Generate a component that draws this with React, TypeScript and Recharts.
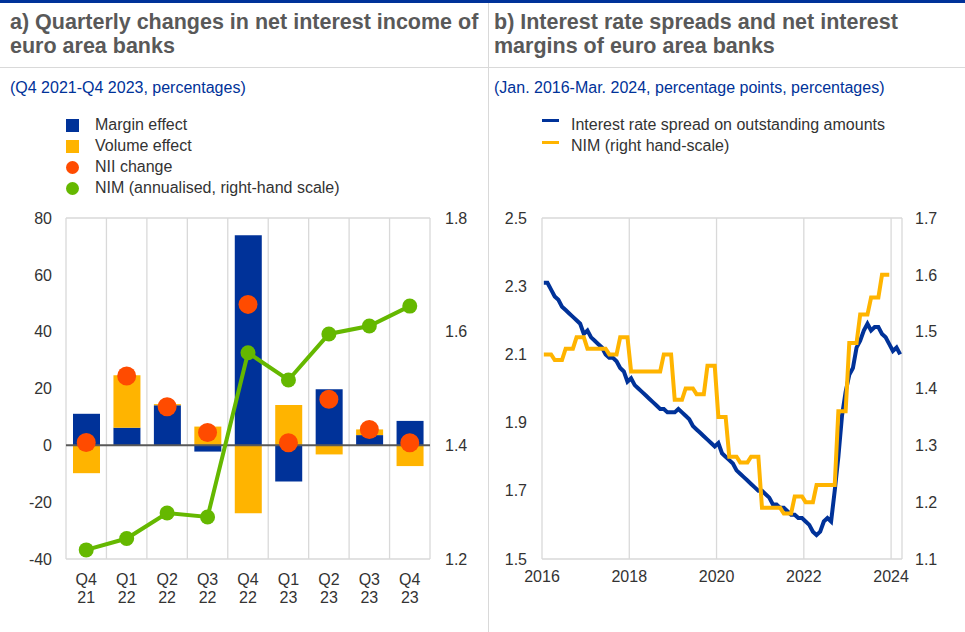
import React from 'react';
import { ComposedChart, Bar, Line, XAxis, YAxis, CartesianGrid, ReferenceLine } from 'recharts';

// ---------- Panel a) data ----------
const quarters = ['Q4 21', 'Q1 22', 'Q2 22', 'Q3 22', 'Q4 22', 'Q1 23', 'Q2 23', 'Q3 23', 'Q4 23'];
const marginEffect = [11.1, 6.2, 14.1, -2.2, 73.9, -12.7, 19.7, 3.6, 8.6];
const volumeEffect = [-9.8, 18.5, 0.4, 6.6, -23.9, 14.2, -3.2, 2.0, -7.3];
const niiChange = [1.0, 24.4, 13.6, 4.5, 49.6, 0.9, 16.2, 5.6, 0.9];
const nimAnnualised = [1.216, 1.236, 1.281, 1.274, 1.563, 1.515, 1.596, 1.61, 1.645];
const leftTicksA = [-40, -20, 0, 20, 40, 60, 80];
const rightTicksA = [1.2, 1.4, 1.6, 1.8];

// ---------- Panel b) data (monthly, Jan 2016 - Mar 2024) ----------
const spread = [
  2.31, 2.31, 2.29, 2.27, 2.26, 2.24, 2.23, 2.22, 2.21, 2.20, 2.19, 2.16,
  2.17, 2.15, 2.14, 2.13, 2.12, 2.10, 2.09, 2.09, 2.08, 2.06, 2.05, 2.02,
  2.03, 2.01, 2.00, 1.99, 1.98, 1.97, 1.96, 1.95, 1.94, 1.94, 1.93, 1.93,
  1.93, 1.94, 1.93, 1.92, 1.91, 1.89, 1.88, 1.87, 1.86, 1.85, 1.84, 1.83,
  1.84, 1.81, 1.80, 1.79, 1.78, 1.76, 1.75, 1.74, 1.73, 1.72, 1.71, 1.70,
  1.70, 1.69, 1.68, 1.66, 1.66, 1.65, 1.65, 1.64, 1.63, 1.63, 1.62, 1.62,
  1.61, 1.60, 1.58, 1.57, 1.58, 1.61, 1.62, 1.61, 1.70, 1.80, 1.92, 1.99,
  2.04, 2.06, 2.12, 2.14, 2.17, 2.19, 2.17, 2.18, 2.18, 2.16, 2.15, 2.13,
  2.11, 2.12, 2.10,
];
const nimMonthly = [
  1.46, 1.46, 1.46, 1.45, 1.45, 1.45, 1.47, 1.47, 1.47, 1.49, 1.49, 1.49,
  1.47, 1.47, 1.47, 1.47, 1.47, 1.47, 1.46, 1.46, 1.46, 1.49, 1.49, 1.49,
  1.43, 1.43, 1.43, 1.43, 1.43, 1.43, 1.43, 1.43, 1.43, 1.46, 1.46, 1.46,
  1.38, 1.38, 1.38, 1.40, 1.40, 1.40, 1.39, 1.39, 1.39, 1.44, 1.44, 1.44,
  1.35, 1.35, 1.35, 1.28, 1.28, 1.28, 1.27, 1.27, 1.27, 1.28, 1.28, 1.28,
  1.19, 1.19, 1.19, 1.19, 1.19, 1.19, 1.18, 1.18, 1.18, 1.21, 1.21, 1.21,
  1.20, 1.20, 1.20, 1.23, 1.23, 1.23, 1.23, 1.23, 1.23, 1.36, 1.36, 1.36,
  1.48, 1.48, 1.48, 1.53, 1.53, 1.53, 1.56, 1.56, 1.56, 1.60, 1.60, 1.60,
];
const yearTicks = [0, 24, 48, 72, 96];
const yearLabels = ['2016', '2018', '2020', '2022', '2024'];
const leftTicksB = [1.5, 1.7, 1.9, 2.1, 2.3, 2.5];
const rightTicksB = [1.1, 1.2, 1.3, 1.4, 1.5, 1.6, 1.7];

const BLUE = '#003299';
const YELLOW = '#FFB400';
const ORANGE = '#FF4B00';
const GREEN = '#65B800';
const GRID = '#d9d9d9';
const TXT = '#333333';
const FONT = '"Liberation Sans", Arial, sans-serif';

const dataA = quarters.map((q, i) => ({
  q,
  margin: marginEffect[i],
  volume: volumeEffect[i],
  nii: niiChange[i],
  nim: nimAnnualised[i],
}));

const dataB = spread.map((s, i) => ({
  m: i + 0.5,
  spread: s,
  nim: i < nimMonthly.length ? nimMonthly[i] : null,
}));

const QuarterTick = (props: any) => {
  const { x, y, payload } = props;
  const [a, b] = String(payload.value).split(' ');
  return (
    <text x={x} y={y} textAnchor="middle" fill={TXT} fontSize={16} fontFamily={FONT}>
      <tspan x={x} dy={25.5}>{a}</tspan>
      <tspan x={x} dy={18}>{b}</tspan>
    </text>
  );
};

const boundaryGen = (n: number) => (args: any) => {
  const off = args.offset;
  const out: number[] = [];
  for (let k = 0; k <= n; k++) out.push(off.left + (k * off.width) / n);
  return out;
};

const tickStyle = { fill: TXT, fontSize: 16, fontFamily: FONT };

function ChartA() {
  return (
    <ComposedChart
      width={488}
      height={527}
      data={dataA}
      stackOffset="sign"
      margin={{ top: 113, right: 0, bottom: 23, left: 0 }}
    >
      <CartesianGrid stroke={GRID} strokeWidth={1.3} verticalCoordinatesGenerator={boundaryGen(quarters.length)} />
      <XAxis dataKey="q" axisLine={false} tickLine={false} tickSize={0} tickMargin={0} height={50} tick={<QuarterTick />} interval={0} />
      <YAxis yAxisId="left" domain={[-40, 80]} ticks={leftTicksA} width={66} axisLine={false} tickLine={false} tickSize={0} tickMargin={14} tick={tickStyle} />
      <YAxis yAxisId="right" orientation="right" domain={[1.2, 1.8]} ticks={rightTicksA} width={58} axisLine={false} tickLine={false} tickSize={0} tickMargin={15} tick={tickStyle} tickFormatter={(v: number) => v.toFixed(1)} />
      <Bar yAxisId="left" dataKey="margin" stackId="s" fill={BLUE} barSize={27} isAnimationActive={false} />
      <Bar yAxisId="left" dataKey="volume" stackId="s" fill={YELLOW} barSize={27} isAnimationActive={false} />
      <ReferenceLine yAxisId="left" y={0} stroke="#595959" strokeWidth={2} />
      <Line yAxisId="right" dataKey="nim" stroke={GREEN} strokeWidth={4} dot={{ r: 7.5, fill: GREEN, stroke: GREEN, strokeWidth: 0 }} activeDot={false} isAnimationActive={false} />
      <Line yAxisId="left" dataKey="nii" stroke="none" dot={{ r: 9.5, fill: ORANGE, stroke: ORANGE, strokeWidth: 0 }} activeDot={false} isAnimationActive={false} />
    </ComposedChart>
  );
}

function ChartB() {
  return (
    <ComposedChart
      width={477}
      height={527}
      data={dataB}
      margin={{ top: 113, right: 0, bottom: 23, left: 0 }}
    >
      <CartesianGrid
        stroke={GRID}
        strokeWidth={1.3}
        verticalCoordinatesGenerator={(args: any) => {
          const off = args.offset;
          const xs = yearTicks.map((t) => off.left + (t / 99) * off.width);
          xs.push(off.left + off.width);
          return xs;
        }}
      />
      <XAxis dataKey="m" type="number" domain={[0, 99]} ticks={yearTicks} axisLine={false} tickLine={false} tickSize={0} tickMargin={12} height={50} tick={tickStyle} tickFormatter={(v: number) => yearLabels[yearTicks.indexOf(v)]} interval={0} />
      <YAxis yAxisId="left" domain={[1.5, 2.5]} ticks={leftTicksB} width={54} axisLine={false} tickLine={false} tickSize={0} tickMargin={15} tick={tickStyle} tickFormatter={(v: number) => v.toFixed(1)} />
      <YAxis yAxisId="right" orientation="right" domain={[1.1, 1.7]} ticks={rightTicksB} width={63} axisLine={false} tickLine={false} tickSize={0} tickMargin={13} tick={tickStyle} tickFormatter={(v: number) => v.toFixed(1)} />
      <Line yAxisId="left" dataKey="spread" stroke={BLUE} strokeWidth={4} dot={false} activeDot={false} isAnimationActive={false} />
      <Line yAxisId="right" dataKey="nim" stroke={YELLOW} strokeWidth={4} dot={false} activeDot={false} connectNulls={false} isAnimationActive={false} />
    </ComposedChart>
  );
}

const legendText: React.CSSProperties = { position: 'absolute', fontSize: 16, color: TXT, whiteSpace: 'nowrap', lineHeight: '18px' };

export default function App() {
  const titleStyle: React.CSSProperties = {
    position: 'absolute', top: 10, fontSize: 21.5, fontWeight: 'bold', color: '#595959', lineHeight: '24px', whiteSpace: 'nowrap',
  };
  const subStyle: React.CSSProperties = {
    position: 'absolute', top: 80, fontSize: 16, color: BLUE, whiteSpace: 'nowrap', lineHeight: '16px',
  };
  return (
    <div style={{ position: 'absolute', left: 0, top: 0, width: 965, height: 632, background: '#fff', fontFamily: FONT, overflow: 'hidden' }}>
      <div style={{ position: 'absolute', left: 0, top: 0, width: 965, height: 3, background: BLUE }} />
      <div style={{ position: 'absolute', left: 488, top: 3, width: 1, height: 629, background: GRID }} />
      <div style={{ position: 'absolute', left: 0, top: 67, width: 965, height: 1, background: GRID }} />

      <div style={{ ...titleStyle, left: 10 }}>a) Quarterly changes in net interest income of<br />euro area banks</div>
      <div style={{ ...titleStyle, left: 494 }}>b) Interest rate spreads and net interest<br />margins of euro area banks</div>
      <div style={{ ...subStyle, left: 10 }}>(Q4 2021-Q4 2023, percentages)</div>
      <div style={{ ...subStyle, left: 494 }}>(Jan. 2016-Mar. 2024, percentage points, percentages)</div>

      {/* Legend a */}
      <div style={{ position: 'absolute', left: 66, top: 119, width: 13, height: 13, background: BLUE }} />
      <div style={{ ...legendText, left: 95, top: 116 }}>Margin effect</div>
      <div style={{ position: 'absolute', left: 66, top: 140, width: 13, height: 13, background: YELLOW }} />
      <div style={{ ...legendText, left: 95, top: 137 }}>Volume effect</div>
      <div style={{ position: 'absolute', left: 66, top: 161, width: 13, height: 13, borderRadius: 7, background: ORANGE }} />
      <div style={{ ...legendText, left: 95, top: 158 }}>NII change</div>
      <div style={{ position: 'absolute', left: 66, top: 182, width: 13, height: 13, borderRadius: 7, background: GREEN }} />
      <div style={{ ...legendText, left: 95, top: 179 }}>NIM (annualised, right-hand scale)</div>

      {/* Legend b */}
      <div style={{ position: 'absolute', left: 542, top: 119, width: 17, height: 3, background: BLUE }} />
      <div style={{ ...legendText, left: 571, top: 116 }}>Interest rate spread on outstanding amounts</div>
      <div style={{ position: 'absolute', left: 542, top: 141, width: 17, height: 3, background: YELLOW }} />
      <div style={{ ...legendText, left: 571, top: 137 }}>NIM (right hand-scale)</div>

      <div style={{ position: 'absolute', left: 0, top: 105 }}>
        <ChartA />
      </div>
      <div style={{ position: 'absolute', left: 488, top: 105 }}>
        <ChartB />
      </div>
    </div>
  );
}
